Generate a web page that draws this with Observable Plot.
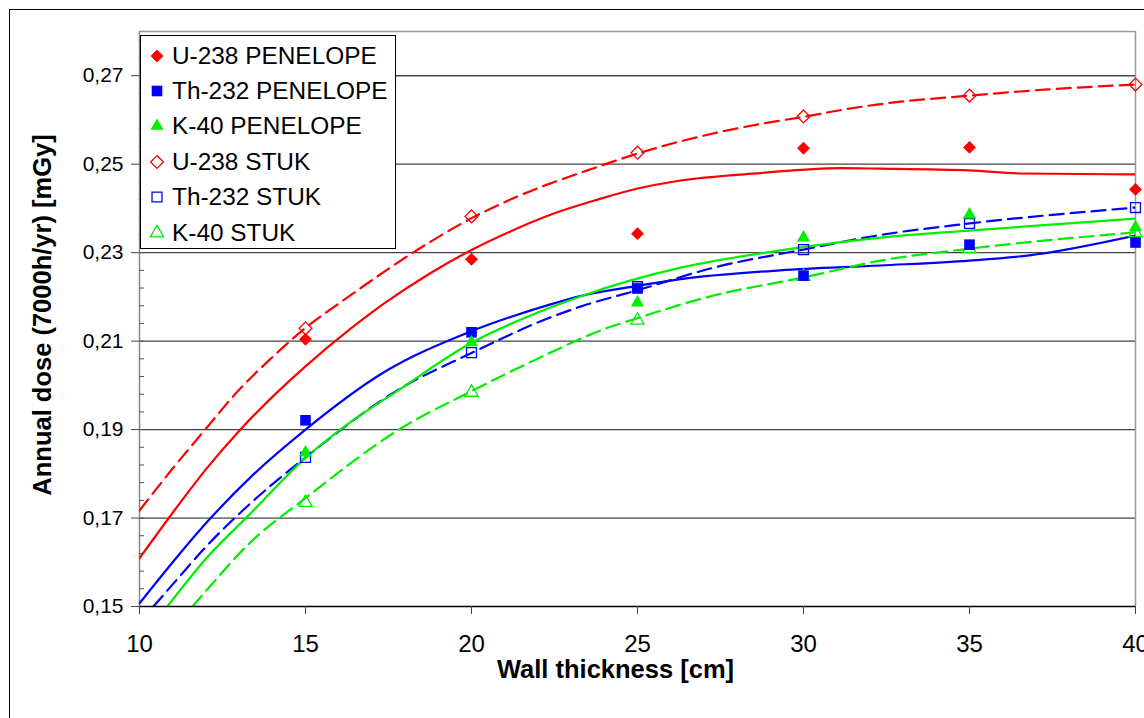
<!DOCTYPE html>
<html>
<head>
<meta charset="utf-8">
<script src="https://cdn.jsdelivr.net/npm/d3@7"></script>
<script src="https://cdn.jsdelivr.net/npm/@observablehq/plot@0.6"></script>
<style>
  html, body { margin: 0; padding: 0; background: #fff; }
  body { font-family: Arial, "Liberation Sans", sans-serif; }
  #wrap { position: relative; width: 1144px; height: 718px; overflow: hidden; background: #fff; }
  #frame { position: absolute; left: 9px; top: 9px; width: 1200px; height: 730px; border: 1.5px solid #000; box-sizing: border-box; }
  #chart { position: absolute; left: 0; top: 0; }
  #legend { position: absolute; left: 140px; top: 35px; width: 256px; height: 214px; border: 1px solid #000; background: #fff; box-sizing: border-box; }
  .row { position: absolute; left: 0; height: 35px; display: flex; align-items: center; font-size: 24.4px; color: #000; white-space: nowrap; }
  .row svg { margin-left: 6px; margin-right: 5px; }
  #ytitle { position: absolute; left: -158px; top: 300px; width: 400px; height: 30px; line-height: 30px; text-align: center;
            font-weight: bold; font-size: 25.5px; color: #000; transform: rotate(-90deg); transform-origin: 200px 15px; white-space: nowrap; }
</style>
</head>
<body>
<div id="wrap">
  <div id="frame"></div>
  <div id="chart"></div>
  <div id="legend"></div>
  <div id="ytitle"></div>
</div>
<script>
// ---- Data ----
const wallThickness = [15, 20, 25, 30, 35, 40];
const u238Penelope = [0.2104, 0.2285, 0.2343, 0.2536, 0.2538, 0.2443];
const th232Penelope = [0.1921, 0.2120, 0.2219, 0.2248, 0.2318, 0.2323];
const k40Penelope = [0.1848, 0.2097, 0.2187, 0.2334, 0.2386, 0.2357];
const u238Stuk = [0.2129, 0.2382, 0.2526, 0.2608, 0.2655, 0.2680];
const th232Stuk = [0.1837, 0.2074, 0.2223, 0.2307, 0.2366, 0.2402];
const k40Stuk = [0.1735, 0.1984, 0.2147, 0.2246, 0.2309, 0.2345];

// fitted curves (solid = PENELOPE, dashed = STUK)
const u238PenFitX = [10, 11, 12, 13, 13.95, 15, 16.36, 17.35, 18.77, 20, 21.17, 22.5, 23.8, 25, 26.2, 28.7, 31.1, 32.3, 35, 36.6, 40];
const u238PenFitY = [0.1609, 0.1712, 0.1810, 0.1897, 0.1970, 0.2043, 0.2128, 0.2184, 0.2254, 0.2306, 0.2348, 0.2389, 0.2420, 0.2445, 0.2462, 0.2480, 0.2491, 0.2490, 0.2486, 0.2479, 0.2477];
const u238StukFitX = [10, 11, 12, 13, 13.95, 15, 16.1, 18.77, 20, 21.17, 23.8, 25, 25.96, 28.7, 30, 31.1, 32.32, 35, 37.35, 40];
const u238StukFitY = [0.1717, 0.1812, 0.1902, 0.1990, 0.2060, 0.2130, 0.2190, 0.2325, 0.2378, 0.2420, 0.2494, 0.2524, 0.2545, 0.2591, 0.2607, 0.2622, 0.2636, 0.2655, 0.2669, 0.2680];
const th232PenFitX = [10, 11, 12, 13.34, 15, 17.35, 19.88, 22.38, 23.28, 25, 26.3, 29.3, 32.32, 35, 36.8, 40];
const th232PenFitY = [0.1507, 0.1600, 0.1688, 0.1792, 0.1900, 0.2029, 0.2119, 0.2183, 0.2202, 0.2225, 0.2240, 0.2260, 0.2271, 0.2282, 0.2294, 0.2339];
const th232StukFitX = [10.42, 11, 12, 13.34, 15, 17.86, 19.97, 22.29, 23.28, 25, 27.29, 30, 32.32, 35, 40];
const th232StukFitY = [0.1500, 0.1550, 0.1635, 0.1733, 0.1837, 0.1993, 0.2072, 0.2151, 0.2178, 0.2215, 0.2266, 0.2307, 0.2340, 0.2366, 0.2402];
const k40PenFitX = [10.84, 12, 13.34, 15, 16.14, 17.86, 19.97, 22.38, 23.28, 26.3, 29.3, 32.32, 35, 40];
const k40PenFitY = [0.1500, 0.1608, 0.1710, 0.1836, 0.1905, 0.1992, 0.2095, 0.2176, 0.2201, 0.2266, 0.2305, 0.2334, 0.2350, 0.2377];
const k40StukFitX = [11.6, 12, 13.34, 15, 17.86, 20.03, 22.38, 23.88, 25, 27.29, 30, 32.32, 35, 40];
const k40StukFitY = [0.1500, 0.1535, 0.1645, 0.1745, 0.1902, 0.1988, 0.2074, 0.2124, 0.2152, 0.2203, 0.2244, 0.2282, 0.2309, 0.2346];

const seriesNames = ["U-238 PENELOPE", "Th-232 PENELOPE", "K-40 PENELOPE", "U-238 STUK", "Th-232 STUK", "K-40 STUK"];
const seriesColors = ["#ff0000", "#0000ff", "#00ee00", "#ff0000", "#0000ff", "#00ee00"];
const seriesSymbols = ["diamond2", "square", "triangle", "diamond2", "square", "triangle"];
const seriesFilled = [true, true, true, false, false, false];
const seriesRadius = [5.8, 6.0, 4.9, 5.8, 5.6, 4.9];

const xTicks = [10, 15, 20, 25, 30, 35, 40];
const yTicks = [0.15, 0.17, 0.19, 0.21, 0.23, 0.25, 0.27];
const yMinorTicks = d3.range(0.154, 0.2795, 0.004).map(v => +v.toFixed(3));
const xTitle = "Wall thickness [cm]";
const yTitle = "Annual dose (7000h/yr) [mGy]";

// ---- Build tables ----
const pointValues = [u238Penelope, th232Penelope, k40Penelope, u238Stuk, th232Stuk, k40Stuk];
const points = [];
pointValues.forEach((vals, s) => vals.forEach((v, i) => points.push({series: s, x: wallThickness[i], y: v})));

const fits = [
  {xs: u238PenFitX, ys: u238PenFitY, s: 0, dashed: false},
  {xs: u238StukFitX, ys: u238StukFitY, s: 3, dashed: true},
  {xs: th232PenFitX, ys: th232PenFitY, s: 1, dashed: false},
  {xs: th232StukFitX, ys: th232StukFitY, s: 4, dashed: true},
  {xs: k40PenFitX, ys: k40PenFitY, s: 2, dashed: false},
  {xs: k40StukFitX, ys: k40StukFitY, s: 5, dashed: true}
];

const fmt = d => d.toFixed(2).replace(".", ",");
const FONT = 'Arial, "Liberation Sans", sans-serif';

const marks = [
  Plot.ruleY(yTicks.slice(1), {stroke: "#444", strokeWidth: 1.3}),
  Plot.ruleY([0.28], {stroke: "#999", strokeWidth: 1.3}),
  Plot.ruleX([40], {stroke: "#999", strokeWidth: 1.5}),
  Plot.ruleX([10], {stroke: "#888", strokeWidth: 1.5}),
];

fits.forEach(f => {
  const data = f.xs.map((x, i) => ({x, y: f.ys[i]}));
  marks.push(Plot.line(data, {
    x: "x", y: "y", curve: "monotone-x",
    stroke: seriesColors[f.s], strokeWidth: 2.2,
    strokeDasharray: f.dashed ? "14,7" : null,
    clip: true
  }));
});

[3, 4, 5, 0, 1, 2].forEach(s => {
  marks.push(Plot.dot(points.filter(d => d.series === s), {
    x: "x", y: "y",
    symbol: () => seriesSymbols[s],
    r: seriesRadius[s],
    fill: seriesFilled[s] ? seriesColors[s] : "none",
    stroke: seriesFilled[s] ? "none" : seriesColors[s],
    strokeWidth: 1.3
  }));
});

marks.push(
  Plot.ruleY([0.15], {stroke: "#000", strokeWidth: 1.5}),
  Plot.axisY({ticks: yMinorTicks, tickSize: -5, tickFormat: () => "", stroke: "#555", label: null}),
  Plot.axisX({ticks: xTicks, tickSize: 8, tickPadding: 20, fontSize: 24, stroke: "#444", label: null, tickFormat: d => String(d)}),
  Plot.axisY({ticks: yTicks, tickSize: 8, tickPadding: 8, fontSize: 21, stroke: "#444", label: null, tickFormat: fmt}),
  Plot.text([xTitle], {frameAnchor: "bottom", text: d => d, dx: -22, dy: 71, fontSize: 25.5, fontWeight: "bold", fill: "#000"})
);

const chart = Plot.plot({
  width: 1144,
  height: 718,
  marginLeft: 139,
  marginRight: 9,
  marginTop: 31,
  marginBottom: 112,
  style: {fontFamily: FONT, fontSize: "24px", color: "#000", background: "transparent", overflow: "visible"},
  x: {domain: [10, 40], type: "linear"},
  y: {domain: [0.15, 0.28], type: "linear"},
  symbol: {type: "identity"},
  marks
});
document.getElementById("chart").appendChild(chart);

document.getElementById("ytitle").textContent = yTitle;

// ---- Legend ----
const legend = document.getElementById("legend");
const symbolMap = {diamond2: d3.symbolDiamond2, square: d3.symbolSquare, triangle: d3.symbolTriangle};
seriesNames.forEach((name, i) => {
  const row = document.createElement("div");
  row.className = "row";
  row.style.top = (2 + i * 35.4) + "px";
  const r = seriesRadius[i];
  const path = d3.symbol(symbolMap[seriesSymbols[i]], Math.PI * r * r)();
  const fill = seriesFilled[i] ? seriesColors[i] : "none";
  const stroke = seriesFilled[i] ? "none" : seriesColors[i];
  row.innerHTML = `<svg width="20" height="20" viewBox="-10 -10 20 20"><path d="${path}" fill="${fill}" stroke="${stroke}" stroke-width="1.3"/></svg><span>${name}</span>`;
  legend.appendChild(row);
});
</script>
</body>
</html>
